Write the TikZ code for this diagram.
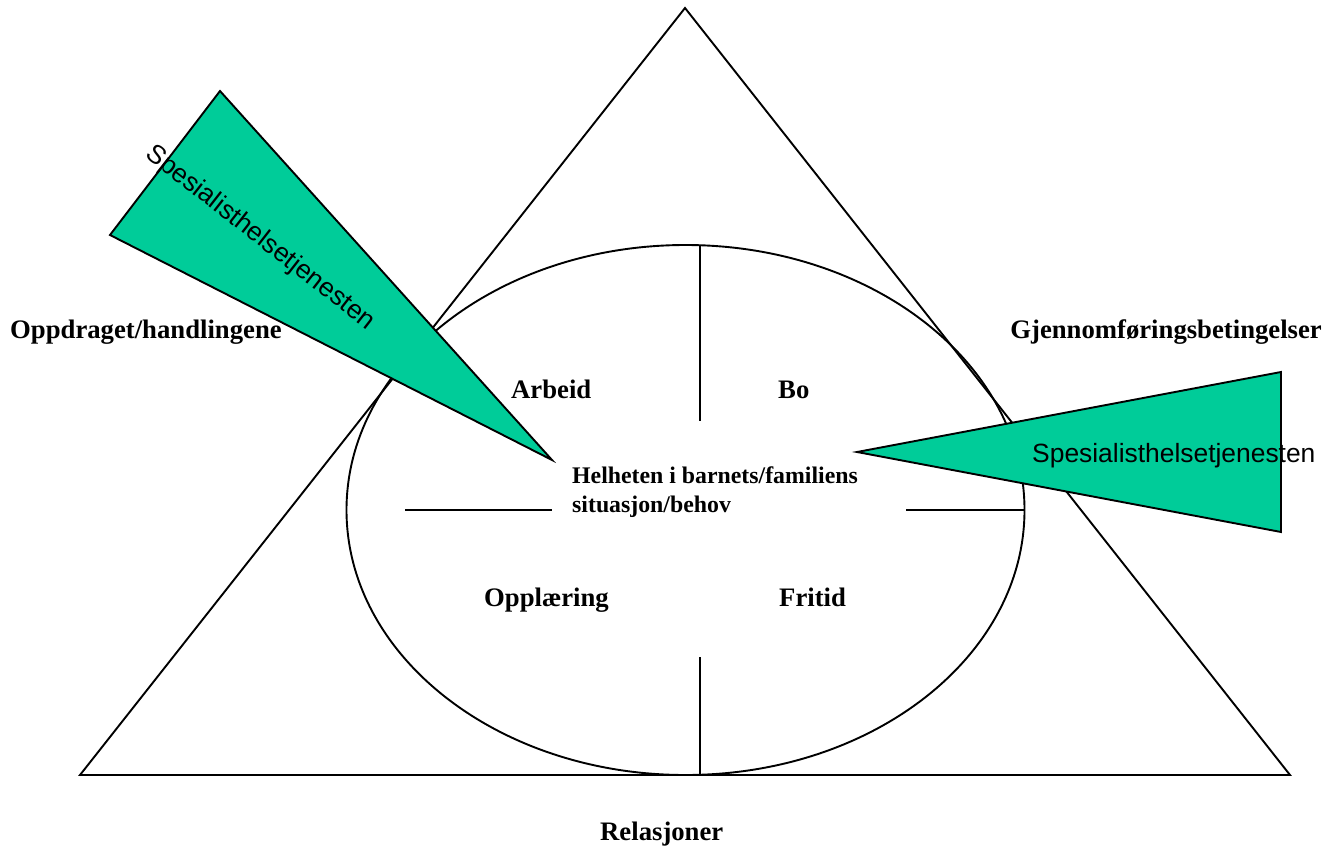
\documentclass[tikz,border=0pt]{standalone}
\usepackage{fontspec}
\setmainfont{Liberation Serif}
\setsansfont{Liberation Sans}
\definecolor{spgreen}{RGB}{0,204,153}
\begin{document}
\begin{tikzpicture}[x=1pt,y=-1pt,
  lbl/.style={inner sep=0pt,font=\bfseries\fontsize{26.7}{32}\selectfont},
  clbl/.style={inner sep=0pt,font=\bfseries\fontsize{23.8}{29}\selectfont},
  sp/.style={inner sep=0pt,font=\sffamily\fontsize{26.4}{32}\selectfont},
  ln/.style={line width=1.9pt,line join=miter},
  wedge/.style={ln,fill=spgreen}]
\useasboundingbox (0,0) rectangle (1329,851);
% big triangle
\coordinate (apex) at (685,8);
\coordinate (bl) at (80,775);
\coordinate (br) at (1290,775);
\draw[ln] (apex) -- (bl) -- (br) -- cycle;
% ellipse
\coordinate (ec) at (685.5,510);
\draw[ln] (ec) ellipse [x radius=339, y radius=265];
% dividing lines
\coordinate (vt1) at (700,245);
\coordinate (vt2) at (700,421);
\coordinate (vb1) at (700,657);
\coordinate (vb2) at (700,775);
\coordinate (hl1) at (405,510);
\coordinate (hl2) at (552,510);
\coordinate (hr1) at (906,510);
\coordinate (hr2) at (1024,510);
\draw[ln] (vt1) -- (vt2);
\draw[ln] (vb1) -- (vb2);
\draw[ln] (hl1) -- (hl2);
\draw[ln] (hr1) -- (hr2);
% green wedges
\coordinate (lw1) at (220,91);
\coordinate (lw2) at (110,235);
\coordinate (lw3) at (552,460);
\draw[wedge] (lw1) -- (lw2) -- (lw3) -- cycle;
\coordinate (rw1) at (857,452);
\coordinate (rw2) at (1281,372);
\coordinate (rw3) at (1281,532);
\draw[wedge] (rw1) -- (rw2) -- (rw3) -- cycle;
% labels
\node[lbl,anchor=base west] (opp) at (10,338) {Oppdraget/handlingene};
\node[lbl,anchor=base east] (gjen) at (1322,338) {Gjennomføringsbetingelser};
\node[lbl,anchor=base west] (arb) at (511,398) {Arbeid};
\node[lbl,anchor=base west] (bo) at (778,398) {Bo};
\node[lbl,anchor=base west] (opl) at (484,606) {Opplæring};
\node[lbl,anchor=base west] (fri) at (779,606) {Fritid};
\node[lbl,anchor=base west] (rel) at (600,840) {Relasjoner};
\node[clbl,anchor=base west] (hel1) at (572,483) {Helheten i barnets/familiens};
\node[clbl,anchor=base west] (hel2) at (572,512) {situasjon/behov};
\node[sp,anchor=base west] (spr) at (1032,462) {Spesialisthelsetjenesten};
\node[sp,rotate=-38] (spl) at (260,238) {Spesialisthelsetjenesten};
\end{tikzpicture}
\end{document}
